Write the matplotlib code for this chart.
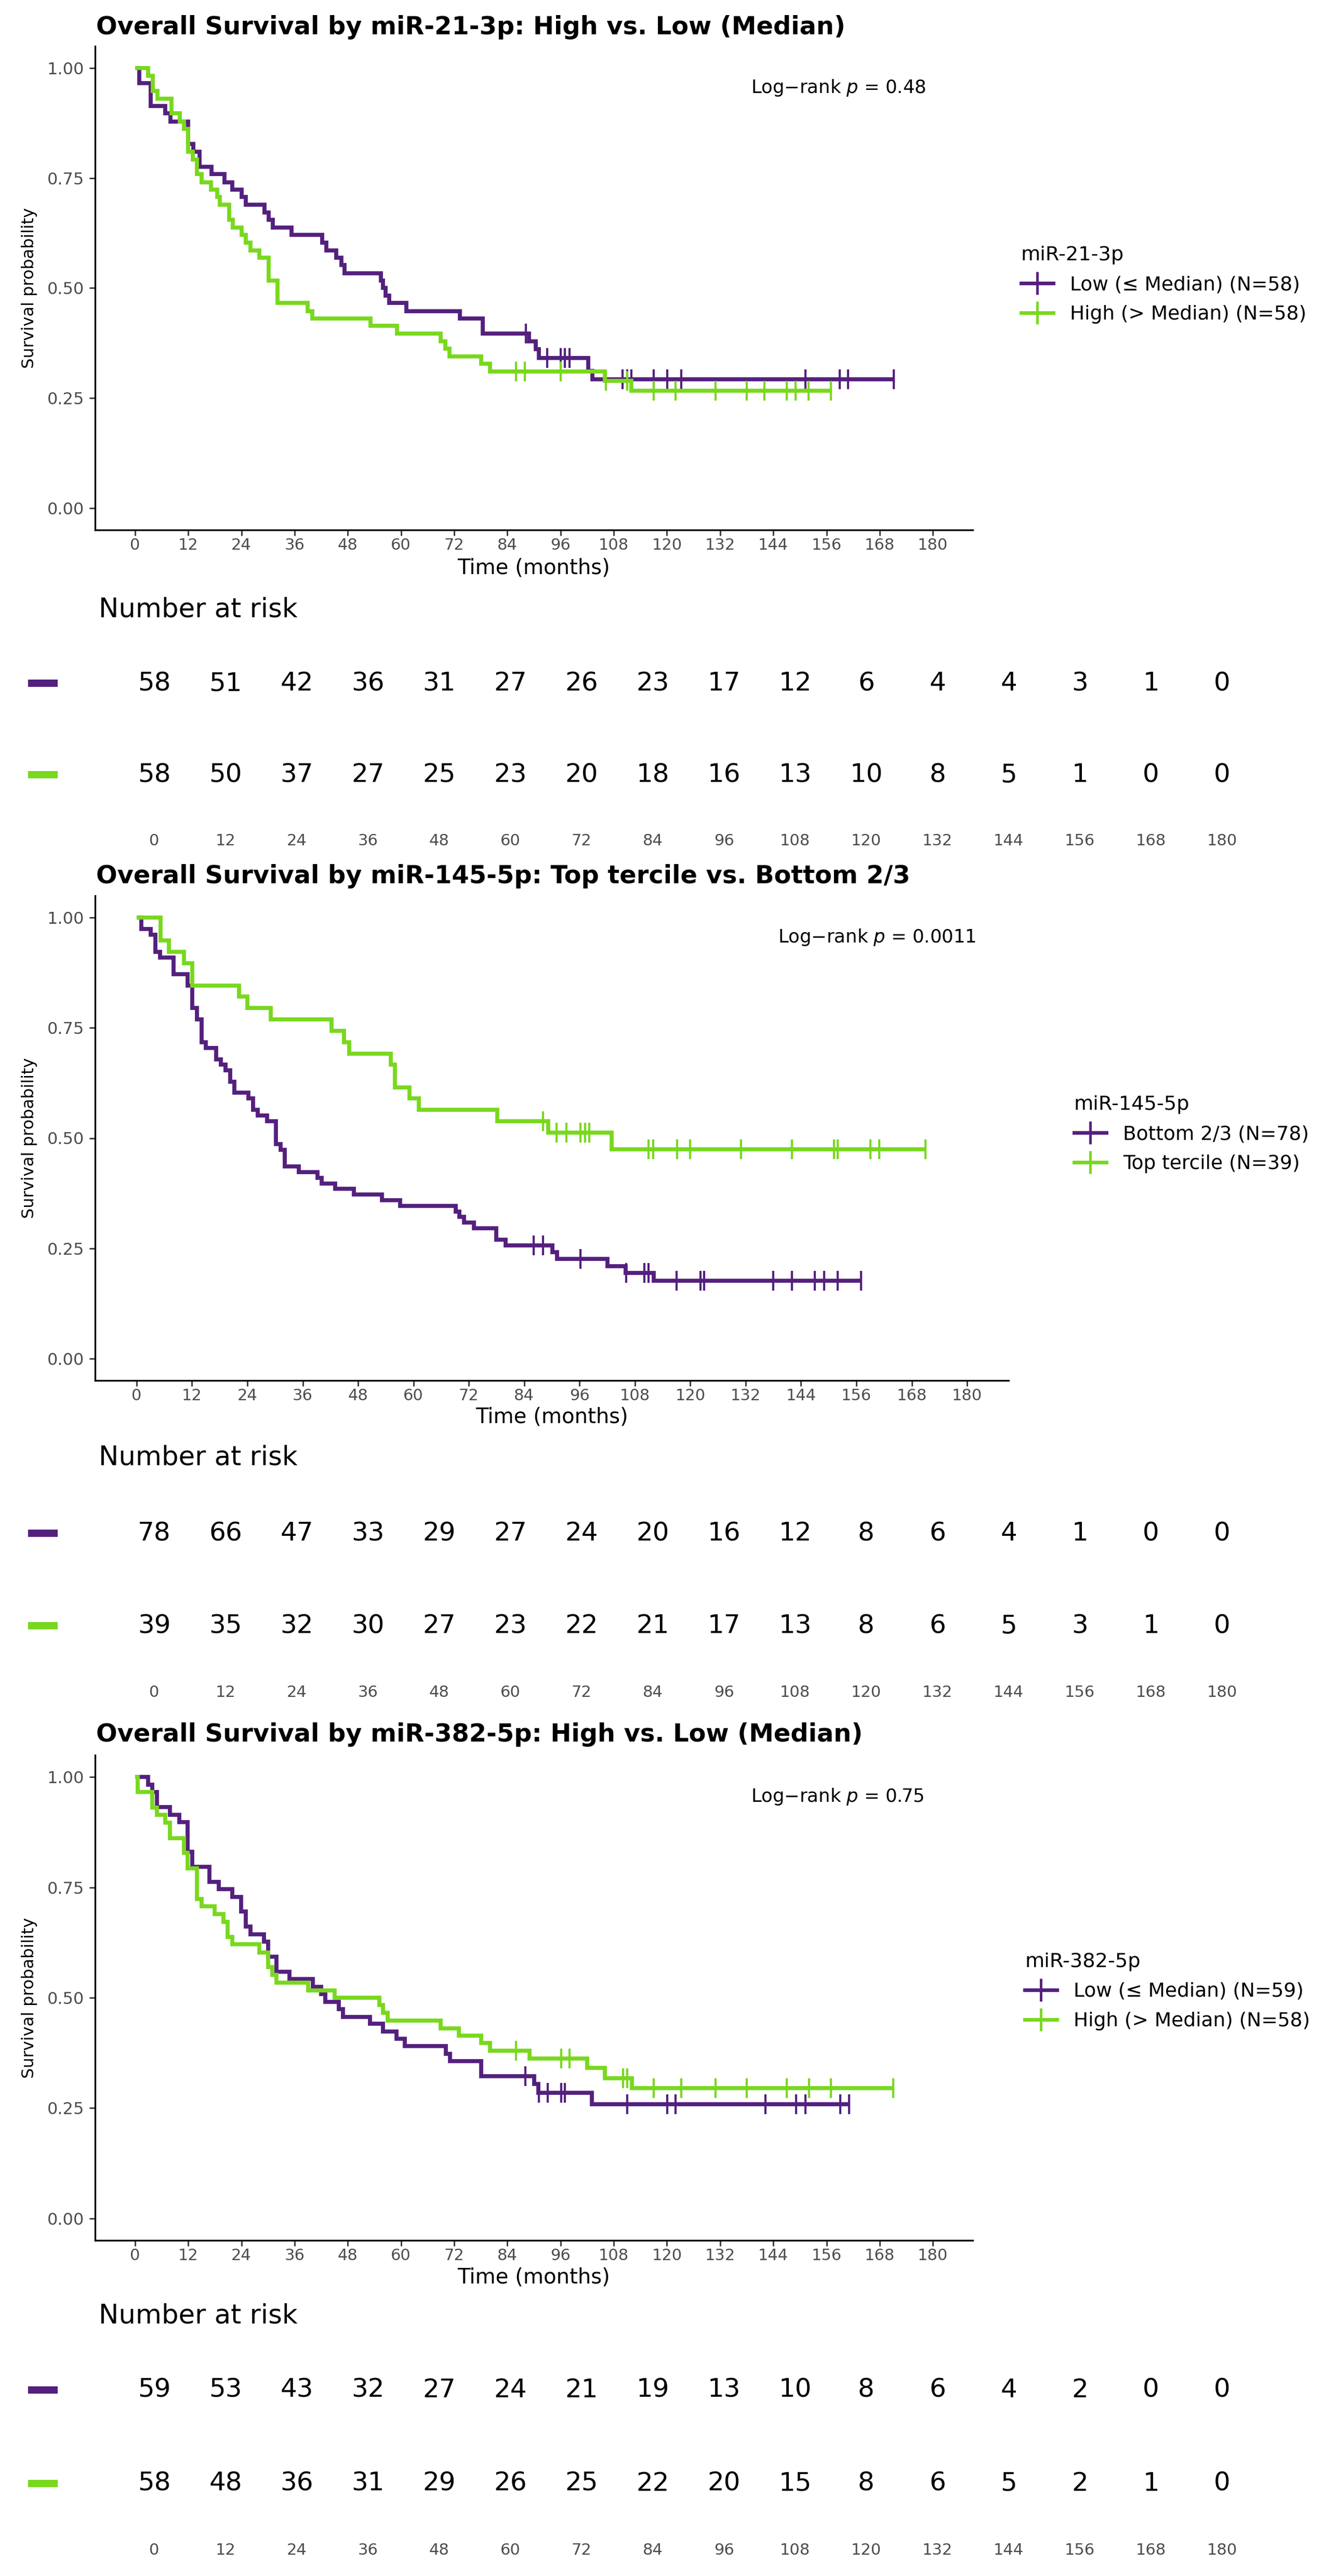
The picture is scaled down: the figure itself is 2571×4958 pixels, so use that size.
import numpy as np
import matplotlib
matplotlib.use("Agg")
import matplotlib.pyplot as plt
from matplotlib.lines import Line2D
from matplotlib.patches import Rectangle

# ---------------- data ----------------
time_breaks = list(range(0, 181, 12))

# Panel 1: miR-21-3p
p1_title = "Overall Survival by miR-21-3p: High vs. Low (Median)"
p1_legend_title = "miR-21-3p"
p1_labels = ["Low (\u2264 Median) (N=58)", "High (> Median) (N=58)"]
p1_pval = "0.48"
p1_low_t = [1.0, 3.5, 6.8, 8.0, 12.0, 13.2, 14.6, 17.3, 20.2, 22.0, 24.1, 25.0, 29.2, 30.2, 31.1,
            35.3, 42.2, 43.2, 45.4, 46.6, 47.3, 55.5, 56.0, 56.5, 57.3, 61.2, 73.3, 78.4, 88.9,
            90.4, 91.1, 102.2, 103.2]
p1_low_s = [0.966, 0.914, 0.897, 0.879, 0.828, 0.810, 0.776, 0.759, 0.741, 0.724, 0.707, 0.690,
            0.672, 0.655, 0.638, 0.621, 0.603, 0.586, 0.569, 0.552, 0.534, 0.517, 0.500, 0.483,
            0.466, 0.448, 0.431, 0.397, 0.379, 0.361, 0.341, 0.312, 0.293]
p1_low_cens = [88.2, 93.0, 96.0, 97.0, 98.0, 110.0, 111.0, 112.0, 117.0, 120.1, 123.2, 151.2,
               159.0, 160.9, 171.2]
p1_high_t = [3.0, 4.0, 5.1, 8.2, 10.1, 11.1, 12.0, 13.0, 14.0, 15.0, 17.1, 18.5, 19.1, 21.3, 22.1,
             24.1, 25.0, 26.0, 28.0, 30.1, 32.1, 39.0, 40.0, 53.1, 59.1, 69.0, 70.0, 71.0, 78.1,
             80.1, 106.0, 112.0]
p1_high_s = [0.983, 0.948, 0.931, 0.897, 0.879, 0.862, 0.810, 0.793, 0.759, 0.741, 0.724, 0.707,
             0.690, 0.655, 0.638, 0.621, 0.603, 0.586, 0.569, 0.517, 0.466, 0.448, 0.431, 0.414,
             0.397, 0.379, 0.362, 0.345, 0.328, 0.310, 0.289, 0.267]
p1_high_cens = [86.0, 88.0, 96.0, 106.2, 111.0, 117.0, 122.0, 131.0, 138.0, 142.0, 147.0, 149.0,
                152.0, 157.0]
p1_risk_low = [58, 51, 42, 36, 31, 27, 26, 23, 17, 12, 6, 4, 4, 3, 1, 0]
p1_risk_high = [58, 50, 37, 27, 25, 23, 20, 18, 16, 13, 10, 8, 5, 1, 0, 0]

# Panel 2: miR-145-5p
p2_title = "Overall Survival by miR-145-5p: Top tercile vs. Bottom 2/3"
p2_legend_title = "miR-145-5p"
p2_labels = ["Bottom 2/3 (N=78)", "Top tercile (N=39)"]
p2_pval = "0.0011"
p2_bot_t = [1.0, 3.0, 4.1, 5.1, 8.0, 11.1, 12.1, 13.1, 14.1, 15.0, 17.2, 18.3, 19.3, 20.3, 21.2,
            24.2, 25.2, 26.2, 28.3, 30.2, 31.2, 32.1, 35.2, 39.2, 40.1, 43.0, 47.1, 53.2, 57.1,
            69.2, 70.0, 71.0, 73.1, 78.0, 80.0, 90.1, 91.1, 102.1, 106.0, 112.1]
p2_bot_s = [0.974, 0.962, 0.923, 0.910, 0.872, 0.846, 0.795, 0.769, 0.718, 0.705, 0.679, 0.667,
            0.654, 0.628, 0.603, 0.590, 0.564, 0.551, 0.538, 0.487, 0.474, 0.436, 0.423, 0.410,
            0.397, 0.385, 0.372, 0.359, 0.346, 0.333, 0.321, 0.308, 0.295, 0.269, 0.256, 0.241,
            0.226, 0.209, 0.194, 0.176]
p2_bot_cens = [86.1, 88.1, 96.2, 106.1, 110.0, 111.0, 117.0, 122.2, 123.0, 138.0, 142.0, 147.0,
               149.0, 152.0, 157.0]
p2_top_t = [5.2, 7.0, 10.3, 12.1, 22.2, 24.0, 29.1, 42.2, 45.0, 46.1, 55.1, 56.0, 59.1, 61.2,
            78.2, 89.2, 102.9]
p2_top_s = [0.949, 0.923, 0.897, 0.846, 0.821, 0.795, 0.769, 0.744, 0.718, 0.692, 0.667, 0.615,
            0.590, 0.564, 0.538, 0.512, 0.475]
p2_top_cens = [88.1, 91.0, 93.2, 96.2, 97.2, 98.1, 111.0, 112.0, 117.1, 120.0, 131.0, 142.0,
               151.2, 152.0, 159.0, 161.0, 171.0]
p2_risk_bot = [78, 66, 47, 33, 29, 27, 24, 20, 16, 12, 8, 6, 4, 1, 0, 0]
p2_risk_top = [39, 35, 32, 30, 27, 23, 22, 21, 17, 13, 8, 6, 5, 3, 1, 0]

# Panel 3: miR-382-5p
p3_title = "Overall Survival by miR-382-5p: High vs. Low (Median)"
p3_legend_title = "miR-382-5p"
p3_labels = ["Low (\u2264 Median) (N=59)", "High (> Median) (N=58)"]
p3_pval = "0.75"
p3_low_t = [3.0, 3.9, 4.9, 7.9, 10.0, 11.9, 12.9, 16.8, 18.9, 22.0, 23.9, 25.0, 26.0, 29.1, 30.0,
            31.9, 34.9, 40.1, 42.0, 42.9, 46.0, 46.9, 53.0, 56.0, 59.0, 60.9, 70.1, 71.1, 78.1,
            90.0, 91.0, 103.1]
p3_low_s = [0.983, 0.966, 0.932, 0.915, 0.898, 0.831, 0.797, 0.763, 0.746, 0.729, 0.695, 0.661,
            0.644, 0.627, 0.593, 0.559, 0.542, 0.525, 0.508, 0.491, 0.474, 0.457, 0.441, 0.424,
            0.407, 0.390, 0.373, 0.356, 0.322, 0.305, 0.285, 0.259]
p3_low_cens = [88.1, 91.1, 93.1, 96.1, 97.0, 111.0, 120.1, 122.0, 142.2, 149.2, 151.2, 159.1, 161.1]
p3_high_t = [0.6, 3.9, 4.9, 6.8, 7.9, 11.0, 11.9, 14.0, 15.0, 18.0, 19.9, 20.9, 22.0, 28.1, 30.0,
             31.0, 31.9, 39.1, 45.0, 55.1, 56.0, 57.0, 68.9, 73.1, 78.1, 80.1, 89.0, 102.0, 106.0,
             112.1]
p3_high_s = [0.966, 0.931, 0.914, 0.897, 0.862, 0.828, 0.793, 0.724, 0.707, 0.690, 0.672, 0.638,
             0.621, 0.603, 0.569, 0.552, 0.534, 0.517, 0.500, 0.483, 0.466, 0.448, 0.431, 0.414,
             0.397, 0.380, 0.362, 0.341, 0.318, 0.295]
p3_high_cens = [86.0, 96.1, 98.0, 110.1, 111.1, 117.0, 123.2, 131.0, 138.0, 147.0, 152.1, 157.0,
                171.1]
p3_risk_low = [59, 53, 43, 32, 27, 24, 21, 19, 13, 10, 8, 6, 4, 2, 0, 0]
p3_risk_high = [58, 48, 36, 31, 29, 26, 25, 22, 20, 15, 8, 6, 5, 2, 1, 0]

# ---------------- style ----------------
W, H, DPI = 2571, 4958, 100
PURPLE = "#54207E"
GREEN = "#79D81E"
TICK_GREY = "#4D4D4D"
plt.rcParams["font.family"] = ["DejaVu Sans"]

fig = plt.figure(figsize=(W / DPI, H / DPI), dpi=DPI)
fig.patch.set_facecolor("white")


def fx(px):
    return px / W


def fy(py):
    return 1 - py / H


def axes_px(left, right, top, bottom):
    return fig.add_axes([fx(left), fy(bottom), (right - left) / W, (bottom - top) / H])


panels = [
    dict(title=p1_title, leg_title=p1_legend_title, labels=p1_labels, pval=p1_pval,
         series=[(p1_low_t, p1_low_s, p1_low_cens), (p1_high_t, p1_high_s, p1_high_cens)],
         risk=[p1_risk_low, p1_risk_high],
         title_y=52, ax=(183, 1872, 89, 1020), xlabel_y=1094, legend=(1965, 548),
         nar_y=1173, rows=(1315, 1491), ticks_y=1617),
    dict(title=p2_title, leg_title=p2_legend_title, labels=p2_labels, pval=p2_pval,
         series=[(p2_bot_t, p2_bot_s, p2_bot_cens), (p2_top_t, p2_top_s, p2_top_cens)],
         risk=[p2_risk_bot, p2_risk_top],
         title_y=1686, ax=(183, 1941, 1724, 2657), xlabel_y=2728, legend=(2067, 2183),
         nar_y=2805, rows=(2951, 3129), ticks_y=3256),
    dict(title=p3_title, leg_title=p3_legend_title, labels=p3_labels, pval=p3_pval,
         series=[(p3_low_t, p3_low_s, p3_low_cens), (p3_high_t, p3_high_s, p3_high_cens)],
         risk=[p3_risk_low, p3_risk_high],
         title_y=3338, ax=(183, 1872, 3378, 4312), xlabel_y=4384, legend=(1972, 3833),
         nar_y=4457, rows=(4600, 4780), ticks_y=4907),
]
colors = [PURPLE, GREEN]

for p in panels:
    left, right, top, bottom = p["ax"]
    ax = axes_px(left, right, top, bottom)
    handles = []
    for (t, s, cens), c, lab in zip(p["series"], colors, p["labels"]):
        end = max(max(cens), max(t))
        xs = [0.0] + list(t) + [end]
        ys = [1.0] + list(s) + [s[-1]]
        ax.step(xs, ys, where="post", color=c, lw=5.6, solid_joinstyle="miter",
                solid_capstyle="butt")
        tt = np.asarray(t)
        ss = np.concatenate([[1.0], np.asarray(s)])
        cy = ss[np.searchsorted(tt, np.asarray(cens), side="right")]
        ax.plot(cens, cy, ls="none", marker="|", ms=28, mew=3.0, color=c)
        handles.append(Line2D([], [], color=c, lw=5, marker="|", ms=32, mew=3.5, label=lab))

    ax.set_xlim(-9, 189)
    ax.set_ylim(-0.05, 1.05)
    ax.set_xticks(time_breaks)
    ax.set_yticks([0, 0.25, 0.5, 0.75, 1.0])
    ax.set_yticklabels(["0.00", "0.25", "0.50", "0.75", "1.00"])
    for sp in ["top", "right"]:
        ax.spines[sp].set_visible(False)
    for sp in ["left", "bottom"]:
        ax.spines[sp].set_linewidth(2.4)
        ax.spines[sp].set_color("black")
    ax.tick_params(axis="both", length=8, width=2, color="#333333",
                   labelcolor=TICK_GREY)
    ax.tick_params(axis="y", labelsize=23, pad=7)
    ax.tick_params(axis="x", labelsize=22, pad=3)

    ax.set_xlabel("Time (months)", fontsize=29)
    ax.xaxis.label.set_va("center")
    ax.xaxis.set_label_coords(0.5, (bottom - p["xlabel_y"]) / (bottom - top))
    ax.set_ylabel("Survival probability", fontsize=23)
    ax.yaxis.label.set_va("center")
    ax.yaxis.set_label_coords((57 - left) / (right - left), 0.5)

    ax.text(139.0, 0.956, "Log$-$rank $p$ = " + p["pval"], fontsize=25.5, ha="left", va="center")

    fig.text(fx(185), fy(p["title_y"]), p["title"], fontsize=34.5, fontweight="bold",
             ha="left", va="center")

    lx, ly = p["legend"]
    fig.legend(handles=handles, title=p["leg_title"], loc="center left",
               bbox_to_anchor=(fx(lx), fy(ly)), frameon=False, fontsize=27,
               title_fontsize=27.5, handlelength=1.65, handletextpad=0.85,
               labelspacing=0.55, borderpad=0, borderaxespad=0, alignment="left")

    # risk table
    r0, r1 = p["rows"]
    u = r1 - r0
    rtop, rbot = r0 - 0.4 * u, r1 + 0.4 * u
    rax = axes_px(200, 2450, rtop, rbot)
    sc = (2352 - 297) / 180.0
    rax.set_xlim(-(297 - 200) / sc, 180 + (2450 - 2352) / sc)
    rax.set_ylim(-0.4, 1.4)
    for sp in rax.spines.values():
        sp.set_visible(False)
    rax.set_yticks([])
    rax.set_xticks(time_breaks)
    rax.tick_params(axis="x", length=0, labelsize=22, labelcolor=TICK_GREY,
                    pad=(p["ticks_y"] - rbot - 13) * 0.72)
    for row_y, counts in zip([1, 0], p["risk"]):
        for tb, n in zip(time_breaks, counts):
            rax.text(tb, row_y, str(n), ha="center", va="center", fontsize=36)
    for py, c in zip([r0, r1], colors):
        fig.add_artist(Rectangle((fx(54), fy(py + 7)), 57 / W, 14 / H,
                                 transform=fig.transFigure, color=c, lw=0))
    fig.text(fx(190), fy(p["nar_y"]), "Number at risk", fontsize=37, ha="left", va="center")

fig.savefig("out.png", dpi=DPI, facecolor="white")
